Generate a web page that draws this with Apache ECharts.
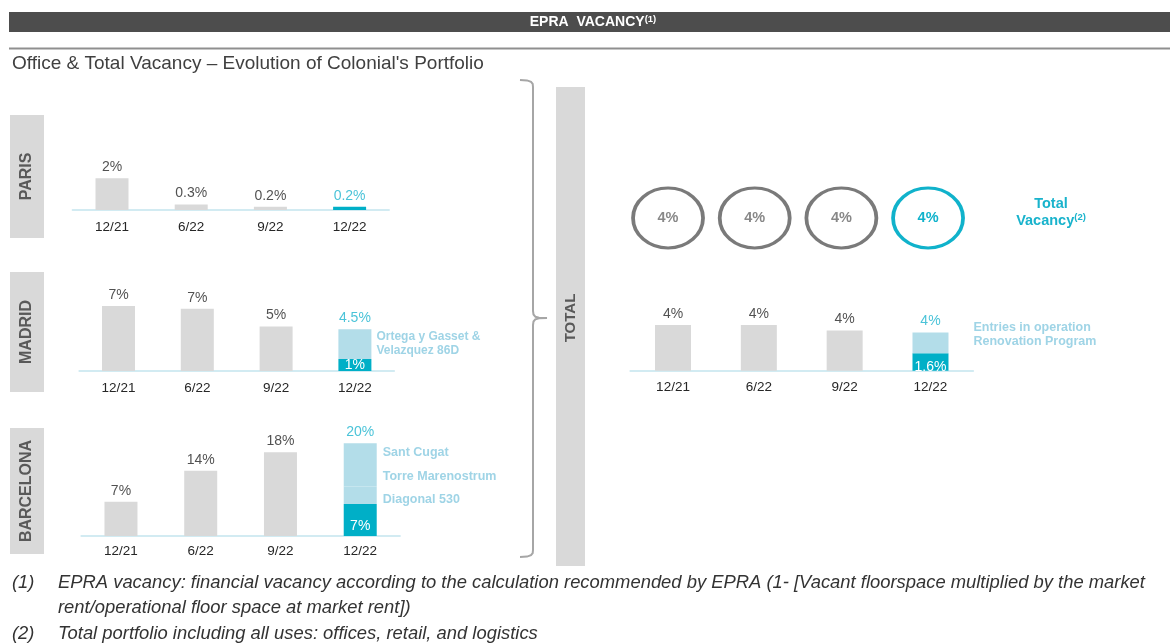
<!DOCTYPE html>
<html>
<head>
<meta charset="utf-8">
<script src="https://cdn.jsdelivr.net/npm/echarts@6/dist/echarts.min.js"></script>
<style>
html, body { margin: 0; padding: 0; background: #fff; }
#main { width: 1170px; height: 644px; }
</style>
</head>
<body>
<div id="main"></div>
<script>
// categories
var cats = ['12/21', '6/22', '9/22', '12/22'];

// Paris
var parisBase = [2.0, 0.35, 0.2, '-'];
var parisNew = ['-', '-', '-', 0.2];
var parisTop = ['2%', '0.3%', '0.2%', '0.2%'];

// Madrid
var madridBase = [7.0, 6.7, 4.8, '-'];
var madridNew = ['-', '-', '-', 1.3];
var madridProj = ['-', '-', '-', 3.2];
var madridTop = ['7%', '7%', '5%', '4.5%'];
var madridNewLabel = '1%';
var madridProjLabel = 'Ortega y Gasset &\nVelazquez 86D';

// Barcelona
var bcnBase = [7.4, 14.1, 18.1, '-'];
var bcnNew = ['-', '-', '-', 6.9];
var bcnDiagonal = ['-', '-', '-', 3.8];
var bcnTorre = ['-', '-', '-', 5.7];
var bcnCugat = ['-', '-', '-', 3.6];
var bcnTop = ['7%', '14%', '18%', '20%'];
var bcnNewLabel = '7%';

// Total
var totalBase = [4.2, 4.2, 3.7, '-'];
var totalNew = ['-', '-', '-', 1.6];
var totalProj = ['-', '-', '-', 1.9];
var totalTop = ['4%', '4%', '4%', '4%'];
var totalNewLabel = '1.6%';
var totalProjLabel = 'Entries in operation\nRenovation Program';

// total vacancy circles
var totalVacancy = [4, 4, 4, 4];

var GRAY = '#d9d9d9', CYAN = '#00afc7', LIGHT = '#b3dde9', ANNOT = '#9fd4e6', TXT = '#262626', CYTXT = '#1db4ce';
var FONT = '"Liberation Sans", Arial, sans-serif';

function num(v) { return v === '-' ? 0 : v; }

function bar(gi, stack, data, color, width, label) {
	return {
		type: 'bar', xAxisIndex: gi, yAxisIndex: gi, stack: stack,
		barWidth: width, data: data, silent: true,
		itemStyle: { color: color },
		label: label || { show: false }
	};
}

function annot(text, dist, offset, size) {
	return {
		show: true, position: 'right', distance: dist, offset: offset || [0, 0],
		formatter: function () { return text; },
		color: ANNOT, fontSize: size || 12.5, fontWeight: 'bold', lineHeight: 14, fontFamily: FONT, align: 'left'
	};
}

function inner(text, pos, dist) {
	return {
		show: true, position: pos, distance: dist,
		formatter: function () { return text; },
		color: '#fff', fontSize: 14, fontFamily: FONT
	};
}

function tops(gi, parts, labels) {
	var data = cats.map(function (c, i) {
		var s = 0;
		parts.forEach(function (p) { s += num(p[i]); });
		return { value: [i, s], label: { color: i === 3 ? CYTXT : TXT } };
	});
	return {
		type: 'scatter', xAxisIndex: gi, yAxisIndex: gi, symbolSize: 0, silent: true,
		data: data,
		label: {
			show: true, position: 'top', distance: 4, fontSize: 14, fontFamily: FONT,
			formatter: function (p) { return labels[p.dataIndex]; }
		}
	};
}

// panel layout: left, width, baseline, px height, y max
var panels = [
	{ left: 72.4, width: 316.8, base: 210, h: 63.3, max: 4 },
	{ left: 79.1, width: 315.2, base: 371, h: 74.3, max: 8 },
	{ left: 81.1, width: 319, base: 536, h: 111.2, max: 24 },
	{ left: 630.1, width: 343.3, base: 370.7, h: 54.4, max: 5 }
];

var grids = [], xAxes = [], yAxes = [];
panels.forEach(function (p, i) {
	grids.push({ left: p.left, width: p.width, top: p.base - p.h, height: p.h });
	xAxes.push({
		type: 'category', gridIndex: i, data: cats,
		axisLine: { lineStyle: { color: '#c4e5ee', width: 1.5 } },
		axisTick: { show: false },
		axisLabel: { color: TXT, fontSize: 13.5, margin: i === 2 ? 8 : 10, fontFamily: FONT }
	});
	yAxes.push({ type: 'value', gridIndex: i, min: 0, max: p.max, show: false, splitLine: { show: false } });
});
// circles grid
grids.push({ left: 624.7, width: 346.7, top: 188, height: 60 });
xAxes.push({ type: 'category', gridIndex: 4, data: cats, show: false });
yAxes.push({ type: 'category', gridIndex: 4, data: ['Total Vacancy'], show: false });

var series = [
	// Paris
	bar(0, 'p', parisBase, GRAY, 33),
	bar(0, 'p', parisNew, CYAN, 33),
	tops(0, [parisBase, parisNew], parisTop),
	// Madrid
	bar(1, 'm', madridBase, GRAY, 33),
	bar(1, 'm', madridNew, CYAN, 33, inner(madridNewLabel, 'inside', 0)),
	bar(1, 'm', madridProj, LIGHT, 33, annot(madridProjLabel, 5, [0, 0], 12)),
	tops(1, [madridBase, madridNew, madridProj], madridTop),
	// Barcelona
	bar(2, 'b', bcnBase, GRAY, 33),
	bar(2, 'b', bcnNew, CYAN, 33, inner(bcnNewLabel, 'insideBottom', 3)),
	bar(2, 'b', bcnDiagonal, LIGHT, 33, annot('Diagonal 530', 6, [0, 4])),
	bar(2, 'b', bcnTorre, LIGHT, 33, annot('Torre Marenostrum', 6, [0, 3])),
	bar(2, 'b', bcnCugat, LIGHT, 33, annot('Sant Cugat', 6, [0, 1])),
	tops(2, [bcnBase, bcnNew, bcnDiagonal, bcnTorre, bcnCugat], bcnTop),
	// Total
	bar(3, 't', totalBase, GRAY, 36),
	bar(3, 't', totalNew, CYAN, 36, inner(totalNewLabel, 'insideBottom', -3)),
	bar(3, 't', totalProj, LIGHT, 36, annot(totalProjLabel, 25, [0, -8])),
	tops(3, [totalBase, totalNew, totalProj], totalTop),
	// circles
	{
		type: 'scatter', xAxisIndex: 4, yAxisIndex: 4, silent: true,
		symbol: 'circle', symbolSize: [70, 60],
		data: totalVacancy.map(function (v, i) {
			var c = i === 3 ? '#10b2cb' : '#7a7a7a';
			return {
				value: [i, 0, v],
				itemStyle: { color: '#fff', borderColor: c, borderWidth: 3.5, opacity: 1 },
				label: { color: i === 3 ? '#10b2cb' : '#888888' }
			};
		}),
		label: {
			show: true, position: 'inside', fontSize: 14.5, fontWeight: 'bold', fontFamily: FONT,
			formatter: function (p) { return p.value[2] + '%'; }
		}
	}
];

function vbox(x, y, w, h) {
	return { type: 'rect', shape: { x: x, y: y, width: w, height: h }, style: { fill: GRAY }, silent: true };
}
function vtext(x, y, t, size) {
	return {
		type: 'text', x: x, y: y, rotation: Math.PI / 2, silent: true,
		style: { text: t, align: 'center', verticalAlign: 'middle', fill: '#595959', font: 'bold ' + size + 'px ' + FONT }
	};
}
var footFont = 'italic 18.4px ' + FONT;
function foot(x, y, t) {
	return { type: 'text', x: x, y: y, silent: true, style: { text: t, verticalAlign: 'middle', fill: '#333', font: footFont } };
}

// curly bracket between the city panels and TOTAL
var bracketPts = [
	[520, 80], [527, 80.4], [531, 81.8], [532.7, 84], [533, 87],
	[533, 311], [533.5, 314.5], [535.5, 316.8], [539, 317.7], [547, 318],
	[539, 318.3], [535.5, 319.2], [533.5, 321.5], [533, 325],
	[533, 550], [532.7, 553], [531, 555.2], [527, 556.6], [520, 557]
];

var graphics = [
	{ type: 'rect', shape: { x: 9, y: 12, width: 1161, height: 20 }, style: { fill: '#4d4d4d' }, silent: true },
	{
		type: 'text', x: 593, y: 22.5, silent: true,
		style: {
			text: 'EPRA  VACANCY{s|(1)}', align: 'center', verticalAlign: 'middle', fill: '#fff',
			font: 'bold 14px ' + FONT,
			rich: { s: { fontSize: 9.5, fontWeight: 'bold', fill: '#fff', verticalAlign: 'top', padding: [0, 0, 6, 0] } }
		}
	},
	{ type: 'line', shape: { x1: 9, y1: 48.5, x2: 1170, y2: 48.5 }, style: { stroke: '#8f8f8f', lineWidth: 2 }, silent: true },
	{ type: 'text', x: 12, y: 64, silent: true, style: { text: "Office & Total Vacancy \u2013 Evolution of Colonial's Portfolio", verticalAlign: 'middle', fill: '#404040', font: '19px ' + FONT } },
	vbox(10, 115, 34, 123), vtext(27, 176.5, 'PARIS', 16),
	vbox(10, 272, 34, 120), vtext(27, 332, 'MADRID', 16),
	vbox(10, 428, 34, 126), vtext(27, 491, 'BARCELONA', 16),
	vbox(556, 87, 29, 479), vtext(570.5, 318, 'TOTAL', 15),
	{
		type: 'polyline', silent: true,
		shape: { points: bracketPts },
		style: { stroke: '#a6a6a6', lineWidth: 2, fill: null }
	},
	{
		type: 'text', x: 1051, y: 212.5, silent: true,
		style: {
			text: 'Total\nVacancy{s|(2)}', align: 'center', verticalAlign: 'middle', fill: '#19b3cc',
			font: 'bold 14.5px ' + FONT, lineHeight: 17,
			rich: { s: { fontSize: 9.5, fontWeight: 'bold', fill: '#19b3cc', verticalAlign: 'top', padding: [0, 0, 6, 0] } }
		}
	},
	foot(12, 583, '(1)'),
	foot(58, 583, 'EPRA vacancy: financial vacancy according to the calculation recommended by EPRA (1- [Vacant floorspace multiplied by the market'),
	foot(58, 608, 'rent/operational floor space at market rent])'),
	foot(12, 634, '(2)'),
	foot(58, 634, 'Total portfolio including all uses: offices, retail, and logistics')
];

var myChart = echarts.init(document.getElementById('main'));
myChart.setOption({
	backgroundColor: '#fff',
	animation: false,
	grid: grids,
	xAxis: xAxes,
	yAxis: yAxes,
	series: series,
	graphic: { elements: graphics }
});
</script>
</body>
</html>
